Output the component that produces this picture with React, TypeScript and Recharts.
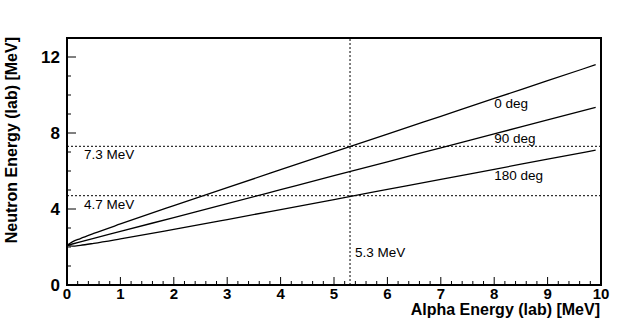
import React from 'react';
import {
  LineChart,
  Line,
  XAxis,
  YAxis,
  ReferenceLine,
  ReferenceArea,
  ReferenceDot,
} from 'recharts';

// alpha energy in the lab frame (MeV)
const alphaEnergy = [0, 0.1, 0.25, 0.5, 1, 2, 3, 4, 5, 6, 7, 8, 9, 9.9];

// neutron energy in the lab frame (MeV) for each emission angle
const deg0 = [2.085, 2.267, 2.445, 2.712, 3.212, 4.177, 5.125, 6.067, 7.007, 7.945, 8.881, 9.817, 10.752, 11.594];
const deg90 = [2.085, 2.158, 2.268, 2.452, 2.818, 3.552, 4.285, 5.019, 5.753, 6.486, 7.22, 7.953, 8.687, 9.347];
const deg180 = [2.085, 2.049, 2.091, 2.191, 2.424, 2.927, 3.446, 3.971, 4.498, 5.028, 5.558, 6.09, 6.621, 7.1];

const xMinorTicks = Array.from({ length: 51 }, (_, i) => Math.round(i * 2) / 10);
const yMajorTicks = [0, 4, 8, 12];
const yMinorTicks = [0, 1, 2, 3, 4, 5, 6, 7, 8, 9, 10, 11, 12];

const curveLabels = [
  { x: 8, y: 9.58, text: '0 deg' },
  { x: 8, y: 7.74, text: '90 deg' },
  { x: 8, y: 5.79, text: '180 deg' },
];

const FONT = '"Liberation Sans", Arial, Helvetica, sans-serif';

const chartData = alphaEnergy.map((e, i) => ({
  e,
  d0: deg0[i],
  d90: deg90[i],
  d180: deg180[i],
}));

const XTick = (props: any) => {
  const { x, y, payload } = props;
  const v = payload.value;
  const major = Math.abs(v - Math.round(v)) < 1e-6;
  return (
    <g>
      <line x1={x} x2={x} y1={y} y2={y - (major ? 8 : 4)} stroke="#000" strokeWidth={1} />
      {major && (
        <text x={x} y={y + 14} textAnchor="middle" fontFamily={FONT} fontWeight="bold" fontSize={15} fill="#000">
          {v}
        </text>
      )}
    </g>
  );
};

const YTick = (props: any) => {
  const { x, y, payload } = props;
  const v = payload.value;
  const major = yMajorTicks.includes(v);
  return (
    <g>
      <line x1={x} x2={x + (major ? 9 : 4)} y1={y} y2={y} stroke="#000" strokeWidth={1} />
      {major && (
        <text x={x - 7} y={y + 6} textAnchor="end" fontFamily={FONT} fontWeight="bold" fontSize={17} fill="#000">
          {v}
        </text>
      )}
    </g>
  );
};

const hLabel = (text: string) => (props: any) => {
  const { viewBox } = props;
  return (
    <text x={viewBox.x + 17} y={viewBox.y + 13} fontFamily={FONT} fontSize={13.5} fill="#000">
      {text}
    </text>
  );
};

const vLabel = (text: string) => (props: any) => {
  const { viewBox } = props;
  return (
    <text x={viewBox.x + 5} y={viewBox.y + 219} fontFamily={FONT} fontSize={13.5} fill="#000">
      {text}
    </text>
  );
};

const dotLabel = (text: string) => (props: any) => {
  const { viewBox } = props;
  return (
    <text x={viewBox.x} y={viewBox.y + 5} fontFamily={FONT} fontSize={13.5} fill="#000">
      {text}
    </text>
  );
};

const xTitle = (props: any) => {
  const { viewBox } = props;
  return (
    <text x={viewBox.x + viewBox.width - 1} y={viewBox.y + 30} textAnchor="end" fontFamily={FONT} fontWeight="bold" fontSize={16} fill="#000">
      Alpha Energy (lab) [MeV]
    </text>
  );
};

const yTitle = (props: any) => {
  const { viewBox } = props;
  const cx = 17;
  const cy = viewBox.y - 1;
  return (
    <text x={cx} y={cy} transform={`rotate(-90, ${cx}, ${cy})`} textAnchor="end" fontFamily={FONT} fontWeight="bold" fontSize={16} fill="#000">
      Neutron Energy (lab) [MeV]
    </text>
  );
};

export default function App() {
  return (
    <div style={{ position: 'absolute', left: 0, top: 0, width: 640, height: 320, background: '#fff' }}>
      <LineChart width={640} height={320} data={chartData} margin={{ top: 38, right: 39, left: 17, bottom: 5 }}>
        <XAxis
          type="number"
          dataKey="e"
          domain={[0, 10]}
          ticks={xMinorTicks}
          interval={0}
          height={30}
          tickSize={0}
          tickMargin={0}
          tickLine={false}
          axisLine={false}
          tick={<XTick />}
          label={{ content: xTitle }}
        />
        <YAxis
          type="number"
          domain={[0, 13]}
          ticks={yMinorTicks}
          interval={0}
          width={50}
          tickSize={0}
          tickMargin={0}
          tickLine={false}
          axisLine={false}
          tick={<YTick />}
          label={{ content: yTitle }}
        />
        <ReferenceLine y={7.3} stroke="#000" strokeDasharray="2 2" strokeWidth={1} label={{ content: hLabel('7.3 MeV') }} />
        <ReferenceLine y={4.7} stroke="#000" strokeDasharray="2 2" strokeWidth={1} label={{ content: hLabel('4.7 MeV') }} />
        <ReferenceLine x={5.3} stroke="#000" strokeDasharray="2 2" strokeWidth={1} label={{ content: vLabel('5.3 MeV') }} />
        {curveLabels.map((c) => (
          <ReferenceDot key={c.text} x={c.x} y={c.y} r={0} stroke="none" fill="none" label={{ content: dotLabel(c.text) }} />
        ))}
        <Line type="monotone" dataKey="d0" stroke="#000" strokeWidth={1.3} dot={false} isAnimationActive={false} />
        <Line type="monotone" dataKey="d90" stroke="#000" strokeWidth={1.3} dot={false} isAnimationActive={false} />
        <Line type="monotone" dataKey="d180" stroke="#000" strokeWidth={1.3} dot={false} isAnimationActive={false} />
        <ReferenceArea x1={0} x2={10} y1={0} y2={13} stroke="#000" strokeWidth={2} fill="none" fillOpacity={0} ifOverflow="visible" />
      </LineChart>
    </div>
  );
}
